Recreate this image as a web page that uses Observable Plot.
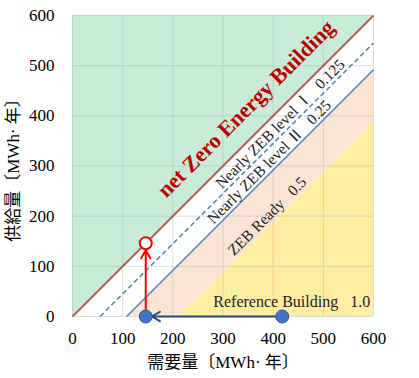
<!DOCTYPE html>
<html><head><meta charset="utf-8">
<script src="https://cdn.jsdelivr.net/npm/d3@7"></script>
<script src="https://cdn.jsdelivr.net/npm/@observablehq/plot@0.6"></script>
<style>
body{margin:0;background:#fff;}
#chart svg{display:block;}
#chart svg text{font-family:'Liberation Serif','Noto Sans CJK JP',serif;}
</style>
</head><body><div id="chart"></div>
<script>
// boundary lines: [demand at supply 0, supply at demand 600]
const zebLine = [[0, 0], [600, 600]];
const levelILine = [[55, 0], [600, 545]];
const levelIILine = [[108, 0], [600, 492]];
const readyEdge = [[111, 0], [600, 489]];
const referenceEdge = [[213, 0], [600, 387]];
const ticks = [0, 100, 200, 300, 400, 500, 600];
const demandBefore = 418, demandAfter = 146, supplyAfter = 146;
const labels = [
  {text: "net Zero Energy Building", x: 346, y: 414},
  {text: "Nearly ZEB level Ⅰ   0.125", x: 414, y: 384},
  {text: "Nearly ZEB level Ⅱ   0.25", x: 392, y: 308},
  {text: "ZEB Ready   0.5", x: 388, y: 200},
  {text: "Reference Building   1.0", x: 437, y: 30}
];

const green = [{x: 0, y1: 0, y2: 600}, {x: 600, y1: 600, y2: 600}];
const orange = [
  {x: readyEdge[0][0], y1: 0, y2: 0},
  {x: referenceEdge[0][0], y1: 0, y2: referenceEdge[0][0] - readyEdge[0][0]},
  {x: 600, y1: referenceEdge[1][1], y2: readyEdge[1][1]}
];
const yellow = [{x: referenceEdge[0][0], y1: 0, y2: 0}, {x: 600, y1: 0, y2: referenceEdge[1][1]}];
const seg = (l) => [{x1: l[0][0], y1: l[0][1], x2: l[1][0], y2: l[1][1]}];

const serif = "'Liberation Serif','Noto Sans CJK JP',serif";
const chart = Plot.plot({
  width: 419, height: 378,
  marginLeft: 72, marginRight: 46, marginTop: 15, marginBottom: 62,
  style: {fontFamily: serif, fontSize: "17px", color: "#000", background: "#fff"},
  x: {domain: [0, 600], ticks: ticks},
  y: {domain: [0, 600], ticks: ticks},
  marks: [
    Plot.areaY(green, {x: "x", y1: "y1", y2: "y2", fill: "#c8ecd8"}),
    Plot.areaY(orange, {x: "x", y1: "y1", y2: "y2", fill: "#fce4d5"}),
    Plot.areaY(yellow, {x: "x", y1: "y1", y2: "y2", fill: "#ffeea2"}),
    Plot.gridX(ticks, {stroke: "#a8b8b0", strokeOpacity: 0.45, strokeWidth: 1}),
    Plot.gridY(ticks, {stroke: "#a8b8b0", strokeOpacity: 0.45, strokeWidth: 1}),
    Plot.link(seg(zebLine), {x1: "x1", y1: "y1", x2: "x2", y2: "y2", stroke: "#c0504d", strokeWidth: 1.8}),
    Plot.link(seg(levelILine), {x1: "x1", y1: "y1", x2: "x2", y2: "y2", stroke: "#4f81bd", strokeWidth: 1.5, strokeDasharray: "5,3"}),
    Plot.link(seg(levelIILine), {x1: "x1", y1: "y1", x2: "x2", y2: "y2", stroke: "#4f81bd", strokeWidth: 1.5}),
    Plot.axisX(ticks, {tickSize: 0, tickPadding: 15, fontSize: 17, label: "需要量〔MWh· 年〕", labelAnchor: "center", labelArrow: "none", labelOffset: 51}),
    Plot.axisY(ticks, {tickSize: 0, tickPadding: 18, fontSize: 17, label: "供給量〔MWh· 年〕", labelAnchor: "center", labelArrow: "none", labelOffset: 66}),
    Plot.arrow([{x1: demandAfter, y1: 0, x2: demandAfter, y2: supplyAfter - 14}], {x1: "x1", y1: "y1", x2: "x2", y2: "y2", stroke: "#ff0000", strokeWidth: 2, headLength: 7}),
    Plot.arrow([{x1: demandBefore, y1: 0, x2: demandAfter + 12, y2: 0}], {x1: "x1", y1: "y1", x2: "x2", y2: "y2", stroke: "#1f4e79", strokeWidth: 2, headLength: 7}),
    Plot.dot([{x: demandAfter, y: 0}, {x: demandBefore, y: 0}], {x: "x", y: "y", r: 6.5, fill: "#4472c4", stroke: "#2f5597", strokeWidth: 1}),
    Plot.dot([{x: demandAfter, y: supplyAfter}], {x: "x", y: "y", r: 6, fill: "#fff", stroke: "#ff0000", strokeWidth: 2}),
    Plot.text(labels.slice(0, 1), {x: "x", y: "y", text: "text", rotate: -45, fontSize: 22, fontWeight: "bold", fill: "#c00000"}),
    Plot.text(labels.slice(1, 4), {x: "x", y: "y", text: "text", rotate: -45, fontSize: 15.5, fill: "#222"}),
    Plot.text(labels.slice(4), {x: "x", y: "y", text: "text", fontSize: 16, fill: "#222"})
  ]
});
document.getElementById("chart").appendChild(chart);
</script>
</body></html>
